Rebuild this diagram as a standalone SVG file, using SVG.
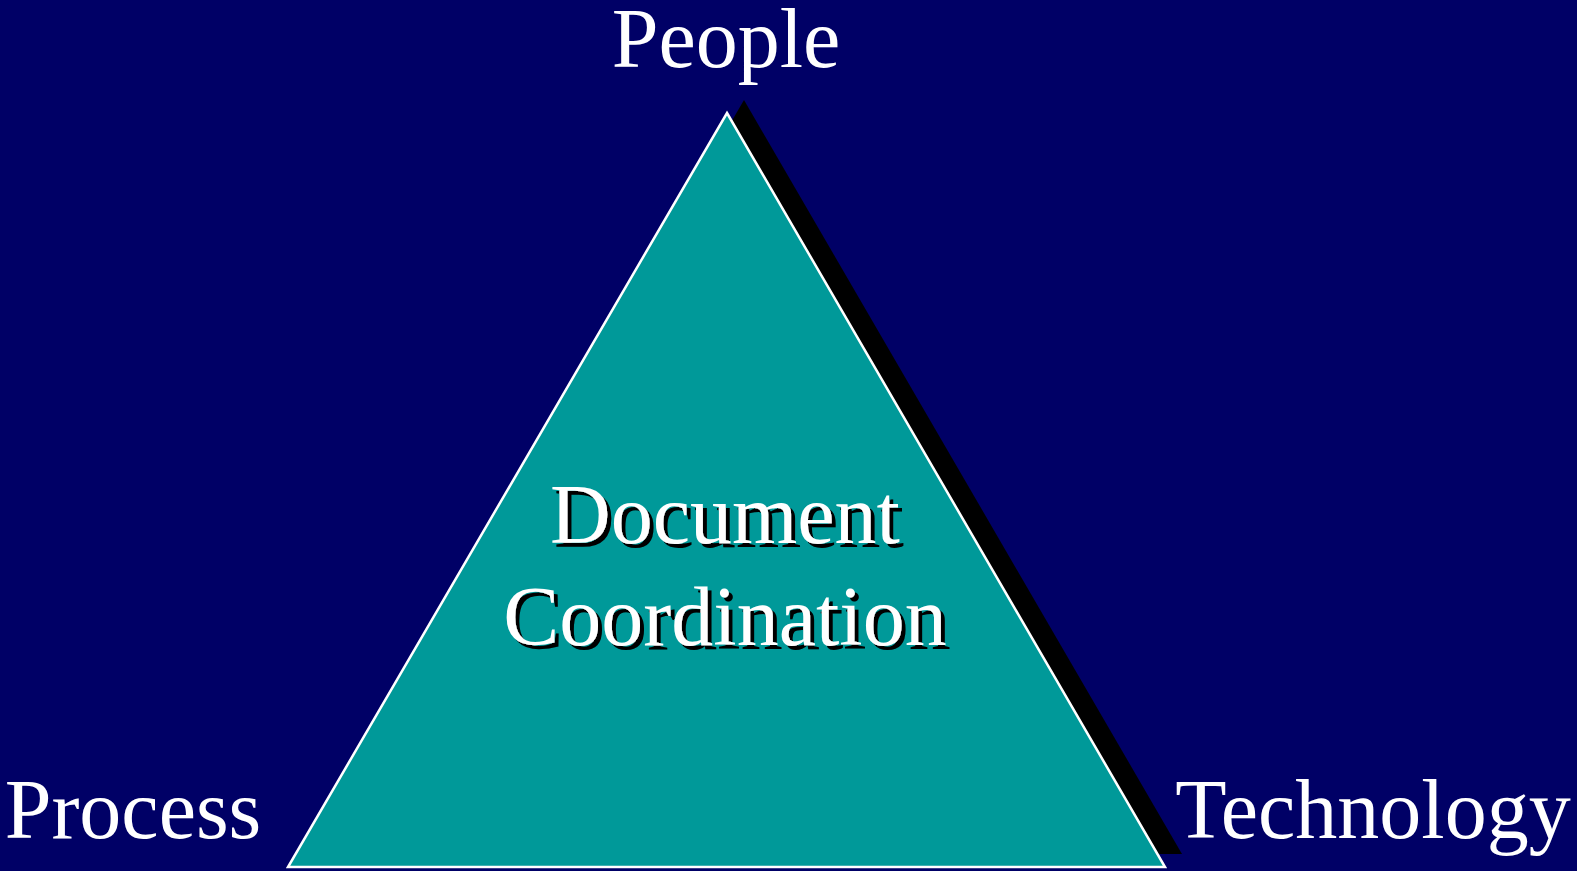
<svg xmlns="http://www.w3.org/2000/svg" width="1577" height="871" viewBox="0 0 1577 871">
<defs>
<filter id="shadow" x="-10%" y="-20%" width="130%" height="150%">
<feOffset in="SourceAlpha" dx="4" dy="4" result="off"/>
<feFlood flood-color="#000000"/>
<feComposite in2="off" operator="in" result="sh"/>
<feMerge><feMergeNode in="sh"/><feMergeNode in="SourceGraphic"/></feMerge>
</filter>
</defs>
<style>
.lbl{font-family:"Liberation Serif","Times New Roman",serif;font-size:84px;fill:#ffffff;text-anchor:middle}
</style>
<rect x="0" y="0" width="1577" height="871" fill="#000066"/>
<g id="triangle">
<polygon points="744,100 1182,854 305,854" fill="#000000"/>
<polygon points="727,113 1165,867 288,867" fill="#009999" stroke="#ffffff" stroke-width="2.5" stroke-linejoin="miter"/>
</g>
<g id="center-label" filter="url(#shadow)">
<text class="lbl" x="725" y="543">Document</text>
<text class="lbl" x="725" y="645">Coordination</text>
</g>
<g id="people"><text class="lbl" x="726" y="67">People</text></g>
<g id="process"><text class="lbl" x="133" y="838">Process</text></g>
<g id="technology"><text class="lbl" x="1373" y="838">Technology</text></g>
<g id="connectors"></g>
</svg>
